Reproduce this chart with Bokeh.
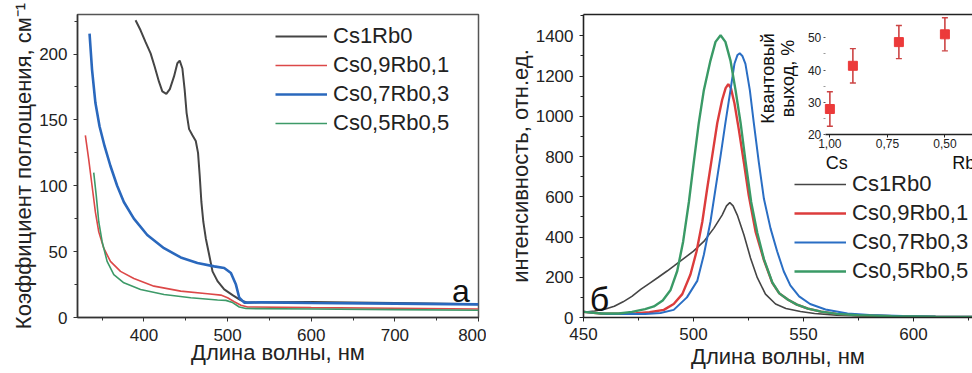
import math
from bokeh.plotting import figure
from bokeh.layouts import row
from bokeh.models import (Range1d, LinearAxis, Legend, LegendItem, Label,
                          FixedTicker, SingleIntervalTicker, CustomJSTickFormatter)
from bokeh.embed import file_html
from bokeh.resources import INLINE

FONT = "Liberation Sans"

# ---------------- panel a: absorption ----------------
abs_labels = ["Cs1Rb0", "Cs0,9Rb0,1", "Cs0,7Rb0,3", "Cs0,5Rb0,5"]
abs_colors = ["#454545", "#dc4848", "#2a68bd", "#3d9a68"]
abs_widths = [2.0, 1.6, 2.6, 1.6]

abs_black_x = [390, 396, 402, 408, 412.8, 418, 422, 426.8, 431, 436, 440, 442.8, 446, 448.7,
               451, 454, 458, 462, 464.7, 466.7, 468.7, 471, 474, 478, 482, 488, 496, 506,
               516, 524, 540, 600, 700, 800]
abs_black_y = [225.6, 218, 209, 200.5, 190.5, 179, 171.7, 169.7, 173.4, 183, 193, 195, 189, 173,
               155.4, 143, 138.3, 134, 125, 107.7, 87.7, 72.7, 60, 47.6, 35, 27.6, 21.3, 17,
               13, 11.3, 11.6, 11.8, 11, 10]

abs_red_x = [330, 334, 338, 342, 346, 352, 360, 372, 388, 412, 444, 476, 492, 500, 508, 516,
             524, 600, 700, 800]
abs_red_y = [138.3, 120, 100, 80, 65, 52.6, 42.6, 35, 29.6, 23.8, 20, 18, 17, 15, 12, 9.3,
             8, 7.5, 7, 6.5]

abs_blue_x = [335, 338, 342, 347, 353, 360, 368, 376, 388, 404, 424, 444, 464, 484, 496, 504,
              510, 514, 520, 540, 600, 700, 800]
abs_blue_y = [215.5, 188, 163, 145, 130, 115, 100, 87.7, 75, 62.6, 52.6, 45.6, 41.4, 38.8, 37.6,
              33.8, 25, 15, 11.3, 11.5, 11, 10.5, 10]

abs_green_x = [340, 343, 346, 350, 356, 364, 376, 396, 424, 456, 488, 498, 506, 514, 522,
               600, 700, 800]
abs_green_y = [110, 92.7, 72.7, 57.7, 42.6, 32.6, 26.3, 21.3, 17.5, 15, 13.3, 13, 11.3, 8, 6.8,
               6.5, 6, 5.5]

abs_series = [(abs_black_x, abs_black_y), (abs_red_x, abs_red_y),
              (abs_blue_x, abs_blue_y), (abs_green_x, abs_green_y)]

# ---------------- panel б: photoluminescence ----------------
pl_labels = ["Cs1Rb0", "Cs0,9Rb0,1", "Cs0,7Rb0,3", "Cs0,5Rb0,5"]
pl_colors = ["#454545", "#dc3c3c", "#2a6ec4", "#3a9a66"]
pl_widths = [1.6, 2.4, 2.0, 2.4]

pl_black_x = [450, 455, 460, 464, 468, 472, 476, 480, 484, 488, 491, 494, 497, 500, 504.7,
              509.2, 513, 515, 516.5, 518, 519.9, 522.9, 525.9, 529, 532.7, 537.3, 542, 548.6,
              555, 565, 580, 600, 630]
pl_black_y = [26, 32, 42, 56, 78, 105, 140, 170, 200, 231, 255, 280, 305, 330, 378,
              443, 509, 555, 571, 555, 509, 411, 296, 198, 116, 67, 45, 30,
              20, 12, 7, 4, 2]

pl_red_x = [450, 458, 466, 474, 480, 486.5, 491, 494.9, 498.6, 501.4, 504, 506.2, 508.5, 510.8,
            513, 514.6, 515.8, 517, 518.6, 520.6, 522.9, 525.1, 528.2, 532, 535.8, 539, 543,
            547, 552, 558, 565, 575, 590, 610, 630]
pl_red_y = [28, 20, 19, 21, 26, 38, 67, 116, 214, 329, 476, 640, 803, 967,
            1081, 1140, 1160, 1140, 1065, 934, 770, 607, 427, 285, 172, 120, 88,
            64, 44, 29, 18, 11, 7, 4, 3]

pl_blue_x = [450, 460, 470, 478, 485, 491, 497, 501.7, 504.7, 507.7, 510, 512.3, 514.5, 516.8,
             518.6, 520, 521, 522.2, 523.6, 525.6, 527.4, 529.7, 532, 535, 538, 541, 544, 548,
             553, 560, 570, 580, 595, 610, 630]
pl_blue_y = [28, 18, 17, 18, 22, 38, 100, 182, 312, 476, 640, 803, 967, 1130,
             1261, 1305, 1313, 1300, 1261, 1130, 967, 770, 590, 443, 329, 230, 160, 105,
             67, 40, 20, 12, 7, 5, 3]

pl_green_x = [450, 458, 466, 472, 478, 482, 486, 489.5, 492.6, 495.3, 497.9, 500.1, 502.4, 504.7,
              507.7, 510, 512.3, 514.5, 516.8, 519.1, 521.4, 523.6, 526.2, 529, 532, 535.8, 539,
              543, 547, 552, 558, 565, 575, 590, 610, 630]
pl_green_y = [28, 20, 20, 28, 42, 55, 85, 135, 231, 378, 574, 770, 967, 1130,
              1277, 1370, 1403, 1370, 1277, 1130, 967, 780, 574, 420, 290, 175, 120,
              88, 64, 44, 29, 18, 11, 7, 4, 3]

pl_series = [(pl_black_x, pl_black_y), (pl_red_x, pl_red_y),
             (pl_blue_x, pl_blue_y), (pl_green_x, pl_green_y)]

# ---------------- inset: quantum yield ----------------
qy_cs = [1.0, 0.9, 0.7, 0.5]
qy_val = [28, 41.3, 48.6, 51]
qy_err = [5.3, 5.3, 5.1, 5.1]


def style_axes(p, lw=1.5, col="#333333"):
    for ax in p.axis:
        ax.axis_line_color = col
        ax.axis_line_width = lw
        ax.major_tick_line_color = col
        ax.minor_tick_line_color = col
        ax.major_tick_in = 0
        ax.major_tick_out = 4
        ax.minor_tick_in = 0
        ax.minor_tick_out = 3
        ax.major_label_text_font = FONT
        ax.major_label_text_font_size = "17px"
        ax.major_label_text_color = "#222222"
        ax.axis_label_text_font = FONT
        ax.axis_label_text_font_size = "22px"
        ax.axis_label_text_font_style = "normal"
        ax.axis_label_text_color = "#222222"
        ax.major_label_standoff = 6
        ax.axis_label_standoff = 0


def make_legend(items, loc):
    lg = Legend(items=items, location=loc)
    lg.label_text_font = FONT
    lg.label_text_font_size = "22px"
    lg.label_text_color = "#222222"
    lg.glyph_width = 52
    lg.glyph_height = 20
    lg.label_height = 20
    lg.label_standoff = 6
    lg.spacing = 3
    lg.padding = 0
    lg.margin = 0
    lg.border_line_color = None
    lg.background_fill_alpha = 0
    return lg


# ----- figure a -----
p1 = figure(width=486, height=373, output_backend="svg", toolbar_location=None,
            x_range=Range1d(320.6, 800), y_range=Range1d(0, 230),
            min_border_left=77, min_border_right=8, min_border_top=14, min_border_bottom=53)
p1.grid.visible = False
p1.outline_line_color = "#555555"
p1.outline_line_width = 1.5
p1.xaxis.ticker = SingleIntervalTicker(interval=100, num_minor_ticks=2)
p1.yaxis.ticker = SingleIntervalTicker(interval=50, num_minor_ticks=2)
p1.xaxis.axis_label = "Длина волны, нм"
p1.yaxis.axis_label = "Коэффициент поглощения, см⁻¹"
style_axes(p1)
p1.xaxis.major_label_standoff = 7
p1.xaxis.axis_label_standoff = -4

items1 = []
for (xs, ys), lab, c, w in zip(abs_series, abs_labels, abs_colors, abs_widths):
    r = p1.line(xs, ys, line_color=c, line_width=w)
    items1.append(LegendItem(label=lab, renderers=[r]))
p1.add_layout(make_legend(items1, (198, 181)))
p1.add_layout(Label(x=779, y=20, text="а", text_font=FONT, text_font_size="32px",
                    text_align="center", text_baseline="alphabetic", text_color="#111111"))

# ----- figure б -----
p2 = figure(width=486, height=373, output_backend="svg", toolbar_location=None,
            x_range=Range1d(450, 626.8), y_range=Range1d(0, 1506),
            min_border_left=97, min_border_right=0, min_border_top=10, min_border_bottom=56)
p2.grid.visible = False
p2.outline_line_color = None
p2.xaxis.ticker = SingleIntervalTicker(interval=50, num_minor_ticks=2)
p2.yaxis.ticker = SingleIntervalTicker(interval=200, num_minor_ticks=2)
p2.xaxis.axis_label = "Длина волны, нм"
p2.yaxis.axis_label = "интенсивность, отн.ед."
style_axes(p2, lw=1.6, col="#222222")
p2.xaxis.major_label_standoff = 6
p2.xaxis.axis_label_standoff = 1

top_ax = LinearAxis(ticker=FixedTicker(ticks=[]), major_label_standoff=0,
                    axis_line_color="#222222", axis_line_width=1.6)
p2.add_layout(top_ax, "above")

items2 = []
for (xs, ys), lab, c, w in zip(pl_series, pl_labels, pl_colors, pl_widths):
    r = p2.line(xs, ys, line_color=c, line_width=w)
    items2.append(LegendItem(label=lab, renderers=[r]))
p2.add_layout(make_legend(items2, (211, 33)))
p2.add_layout(Label(x=457.3, y=93, text="б", text_font=FONT, text_font_size="34px",
                    text_align="center", text_baseline="alphabetic", text_color="#111111"))

# inset
p2.extra_x_ranges = {"ix": Range1d(2.071, 0.380)}
p2.extra_y_ranges = {"iy": Range1d(-36.2, 57.1)}
qy_lo = [v - e for v, e in zip(qy_val, qy_err)]
qy_hi = [v + e for v, e in zip(qy_val, qy_err)]
p2.segment(x0=qy_cs, y0=qy_lo, x1=qy_cs, y1=qy_hi, x_range_name="ix", y_range_name="iy",
           line_color="#cc4444", line_width=1.6)
p2.scatter(x=qy_cs + qy_cs, y=qy_lo + qy_hi, x_range_name="ix", y_range_name="iy",
           marker="dash", size=6, line_color="#cc4444", line_width=1.4)
p2.scatter(x=qy_cs, y=qy_val, x_range_name="ix", y_range_name="iy", marker="square",
           size=9, fill_color="#ec3a3a", line_color="#ec3a3a")

iax = LinearAxis(x_range_name="ix", y_range_name="iy", fixed_location=20, bounds=(0.0, 1.02),
                 ticker=FixedTicker(ticks=[1.0, 0.75, 0.5, 0.25, 0.0]),
                 formatter=CustomJSTickFormatter(code="return tick.toFixed(2).replace('.', ',')"),
                 axis_line_color="#222222", axis_line_width=1.6,
                 major_tick_in=0, major_tick_out=3, major_tick_line_color="#222222",
                 minor_tick_line_color=None,
                 major_label_text_font=FONT, major_label_text_font_size="12px",
                 major_label_text_color="#222222", major_label_standoff=1)
p2.add_layout(iax, "below")
iay = LinearAxis(x_range_name="ix", y_range_name="iy", fixed_location=1.02, bounds=(20, 57),
                 ticker=FixedTicker(ticks=[20, 30, 40, 50], minor_ticks=[25, 35, 45]),
                 axis_line_color=None,
                 major_tick_in=0, major_tick_out=2, major_tick_line_color="#555555",
                 minor_tick_in=0, minor_tick_out=2, minor_tick_line_color="#999999",
                 major_label_text_font=FONT, major_label_text_font_size="12px",
                 major_label_text_color="#222222", major_label_standoff=2)
p2.add_layout(iay, "left")

for txt, xx, yy, al in [("Cs", 0.97, 11.5, "center"), ("Rb", 0.468, 11.5, "left")]:
    p2.add_layout(Label(x=xx, y=yy, text=txt, x_range_name="ix", y_range_name="iy",
                        text_font=FONT, text_font_size="18px", text_align=al,
                        text_baseline="middle", text_color="#111111"))
for txt, xx in [("Квантовый", 1.268), ("выход, %", 1.181)]:
    p2.add_layout(Label(x=xx, y=37.4, text=txt, x_range_name="ix", y_range_name="iy",
                        angle=math.pi / 2, text_font=FONT, text_font_size="18px",
                        text_align="center", text_baseline="middle", text_color="#111111"))

layout = row(p1, p2)
open("out.html", "w").write(file_html(layout, INLINE))
